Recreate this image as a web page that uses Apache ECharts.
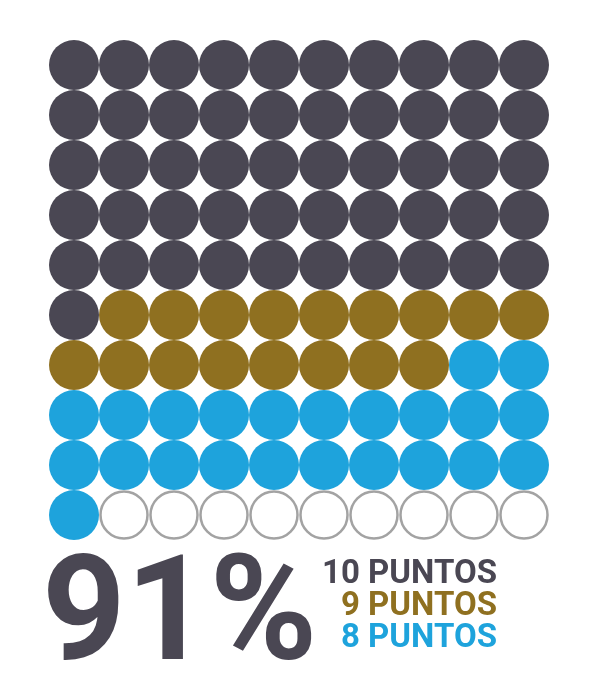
<!DOCTYPE html>
<html>
<head>
<meta charset="utf-8">
<script src="https://cdn.jsdelivr.net/npm/echarts@6/dist/echarts.min.js"></script>
<style>
  html, body { margin: 0; padding: 0; background: #fff; }
  #main { width: 600px; height: 700px; }
</style>
</head>
<body>
<div id="main"></div>
<script>
// Waffle chart: 10 x 10 cells, filled row by row
var categories = ['10 PUNTOS', '9 PUNTOS', '8 PUNTOS'];
var counts = [51, 17, 23];
var colors = ['#4a4753', '#8f7020', '#1ea3dc'];
var gridSize = 10;

var chart = echarts.init(document.getElementById('main'));

// Build the cells for each category in fill order
var series = [];
var cell = 0;
categories.forEach(function (name, i) {
    var pts = [];
    for (var k = 0; k < counts[i]; k++) {
        pts.push([cell % gridSize, Math.floor(cell / gridSize)]);
        cell++;
    }
    series.push({
        name: name,
        type: 'scatter',
        symbolSize: 50,
        itemStyle: { color: colors[i], opacity: 1 },
        silent: true,
        data: pts
    });
});
var empty = [];
for (; cell < gridSize * gridSize; cell++) {
    empty.push([cell % gridSize, Math.floor(cell / gridSize)]);
}
series.push({
    name: 'vacío',
    type: 'scatter',
    symbolSize: 47,
    itemStyle: { color: '#ffffff', borderColor: '#a3a3a3', borderWidth: 2.5, opacity: 1 },
    silent: true,
    data: empty
});

var total = counts.reduce(function (a, b) { return a + b; }, 0);

// legend as one rich text block, one line per category
var rich = {};
var lines = categories.map(function (name, i) {
    rich['c' + i] = {
        fill: colors[i],
        fontSize: 33,
        fontWeight: 'bold',
        fontFamily: 'Roboto',
        lineHeight: 32,
        align: 'right'
    };
    return '{c' + i + '|' + name + '}';
});

var option = {
    animation: false,
    grid: { left: 49, top: 40, width: 500, height: 500 },
    xAxis: { type: 'value', min: -0.5, max: 9.5, show: false },
    yAxis: { type: 'value', min: -0.5, max: 9.5, inverse: true, show: false },
    series: series,
    graphic: [{
        type: 'text',
        left: 42,
        top: 549,
        style: {
            text: total + '%',
            fill: colors[0],
            font: 'bold 146px Roboto'
        }
    }, {
        type: 'text',
        right: 103,
        top: 558,
        style: {
            text: lines.join('\n'),
            rich: rich,
            align: 'right'
        }
    }]
};

chart.setOption(option);
</script>
</body>
</html>
